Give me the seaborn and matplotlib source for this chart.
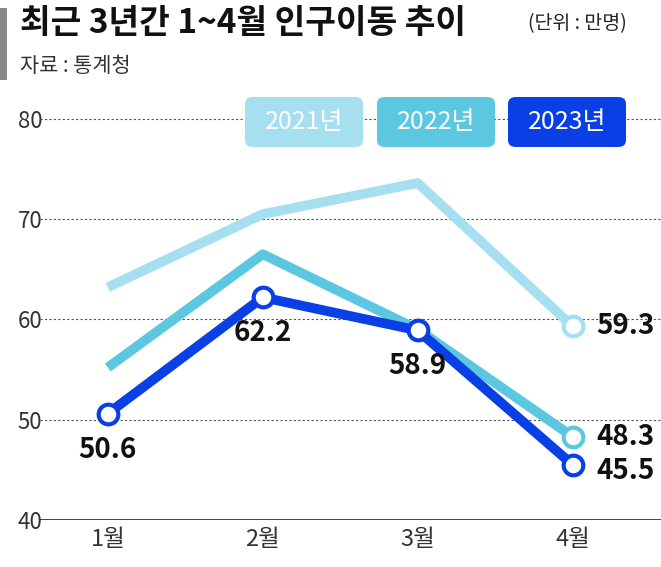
import matplotlib
matplotlib.use("Agg")
import matplotlib.pyplot as plt
import seaborn as sns
import pandas as pd
from matplotlib.patches import FancyBboxPatch

months = ["1월", "2월", "3월", "4월"]
years = ["2021년", "2022년", "2023년"]
v2021 = [63.2, 70.5, 73.6, 59.3]
v2022 = [55.2, 66.5, 59.0, 48.3]
v2023 = [50.6, 62.2, 58.9, 45.5]
colors = ["#a6dff0", "#5cc7e0", "#0b3fe6"]

sns.set_style("white")
plt.rcParams['font.family'] = ['Noto Sans CJK KR', 'DejaVu Sans']

rows = []
for y, vals in zip(years, [v2021, v2022, v2023]):
    for i, (m, v) in enumerate(zip(months, vals)):
        rows.append(dict(year=y, x=i, month=m, value=v))
df = pd.DataFrame(rows)

fig = plt.figure(figsize=(6.61, 5.67), dpi=100)
ax = fig.add_axes([0.06, 0.083, 0.94, 0.741])
sns.lineplot(data=df, x="x", y="value", hue="year", palette=colors, lw=7,
             legend=False, ax=ax, solid_capstyle="butt", zorder=3)
ax.set_xlim(-0.44, 3.57)
ax.set_ylim(40, 81.9)
for yy in [50, 60, 70, 80]:
    ax.axhline(yy, color="#555", ls=(0, (2, 2)), lw=0.8, zorder=1)
ax.axhline(40, color="#222", lw=1.2, zorder=1)
for s in ax.spines.values():
    s.set_visible(False)
ax.set_yticks([40, 50, 60, 70, 80])
ax.set_yticklabels(["40", "50", "60", "70", "80"], fontsize=16, color="#333")
ax.set_xticks(range(4))
ax.set_xticklabels(months, fontsize=17, color="#333")
ax.tick_params(length=0, pad=6)
ax.tick_params(axis='y', pad=-2)
ax.set_xlabel(""); ax.set_ylabel("")

ax.scatter([3], [v2021[3]], s=200, facecolor="white", edgecolor=colors[0], lw=3, zorder=5)
ax.scatter([3], [v2022[3]], s=200, facecolor="white", edgecolor=colors[1], lw=3, zorder=5)
ax.scatter(range(4), v2023, s=200, facecolor="white", edgecolor=colors[2], lw=3, zorder=6)

kw = dict(fontsize=20, fontweight="bold", color="#111", zorder=7)
ax.text(0, v2023[0] - 2.2, f"{v2023[0]}", ha="center", va="top", **kw)
ax.text(1, v2023[1] - 2.2, f"{v2023[1]}", ha="center", va="top", **kw)
ax.text(2, v2023[2] - 2.2, f"{v2023[2]}", ha="center", va="top", **kw)
ax.text(3.15, v2021[3], f"{v2021[3]}", ha="left", va="center", **kw)
ax.text(3.15, v2022[3], f"{v2022[3]}", ha="left", va="center", **kw)
ax.text(3.15, v2023[3] - 0.6, f"{v2023[3]}", ha="left", va="center", **kw)

for (x0, lab, c) in zip([245, 377, 508], years, colors):
    fx = x0 / 661; fy = 1 - 147 / 567
    fig.patches.append(FancyBboxPatch((fx, fy), 118 / 661, 50 / 567,
                       boxstyle="round,pad=0,rounding_size=0.012",
                       transform=fig.transFigure, facecolor=c, edgecolor="none"))
    fig.text(fx + 59 / 661, fy + 25 / 567, lab, ha="center", va="center",
             fontsize=18, color="white")

fig.patches.append(plt.Rectangle((0, 1 - 80 / 567), 7 / 661, 72 / 567,
                   transform=fig.transFigure, facecolor="#888", edgecolor="none"))
fig.text(20 / 661, 1 - 24 / 567, "최근 3년간 1~4월 인구이동 추이", fontsize=24,
         fontweight="bold", va="center", ha="left", color="#111")
fig.text(528 / 661, 1 - 24 / 567, "(단위 : 만명)", fontsize=14, va="center",
         ha="left", color="#222")
fig.text(20 / 661, 1 - 66 / 567, "자료 : 통계청", fontsize=15, va="center",
         ha="left", color="#333")

fig.savefig("out.png", dpi=100)
